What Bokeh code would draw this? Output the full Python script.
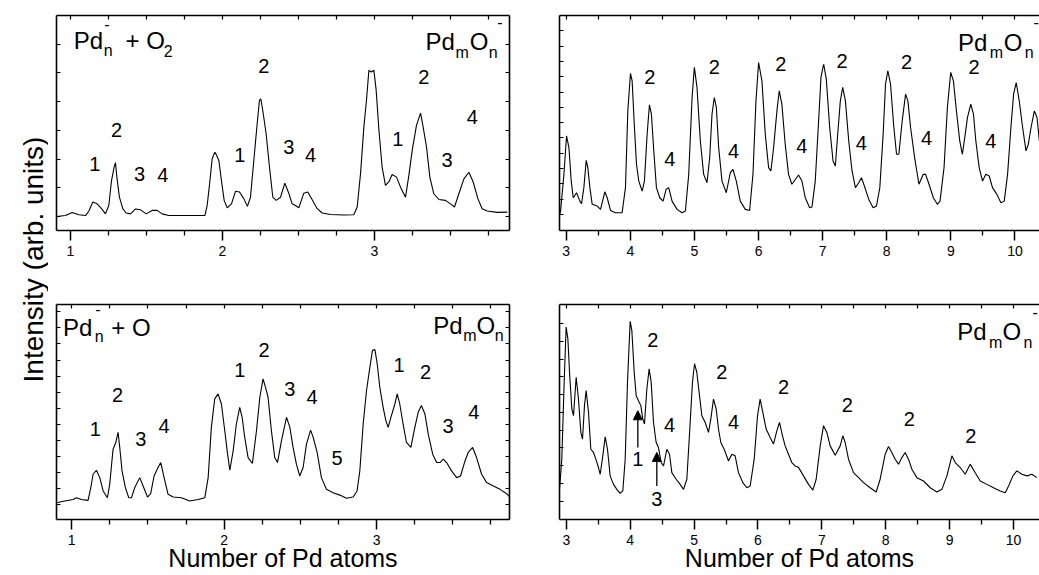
import math
from bokeh.plotting import figure
from bokeh.layouts import row, column
from bokeh.models import (Range1d, LinearAxis, FixedTicker, Label, Arrow,
                          NormalHead, ColumnDataSource, CustomJSTickFormatter)
from bokeh.embed import file_html
from bokeh.resources import INLINE
from bokeh.core.properties import value

FONT = "Liberation Sans"

# ---------------- data: top-left (Pd_n^- + O2, small clusters) ----------------
tl_x = [0.908, 0.967, 1.011, 1.055, 1.099, 1.121, 1.147, 1.175, 1.204, 1.230, 1.252, 1.270, 1.287, 1.296,
        1.305, 1.322, 1.344, 1.366, 1.395, 1.428, 1.461, 1.498, 1.537, 1.570, 1.603, 1.647, 1.779, 1.884,
        1.899, 1.914, 1.932, 1.950, 1.961, 1.976, 1.993, 2.011, 2.031, 2.059, 2.086, 2.112, 2.140, 2.164,
        2.184, 2.206, 2.228, 2.243, 2.252, 2.265, 2.287, 2.309, 2.331, 2.353, 2.382, 2.410, 2.436, 2.458,
        2.480, 2.502, 2.535, 2.561, 2.590, 2.623, 2.656, 2.711, 2.798, 2.864, 2.886, 2.908, 2.930, 2.947,
        2.963, 2.978, 2.996, 3.011, 3.029, 3.050, 3.072, 3.094, 3.116, 3.145, 3.171, 3.204, 3.226, 3.248,
        3.276, 3.303, 3.320, 3.342, 3.364, 3.390, 3.423, 3.467, 3.504, 3.526, 3.555, 3.588, 3.621, 3.649,
        3.680, 3.708, 3.741, 3.807, 3.873]
tl_y = [0.00, 0.03, 0.14, 0.06, 0.03, 0.19, 0.50, 0.44, 0.27, 0.09, 0.38, 1.25, 1.72, 1.87,
        1.37, 0.67, 0.27, 0.12, 0.09, 0.26, 0.23, 0.09, 0.21, 0.21, 0.09, 0.03, 0.03, 0.03,
        0.38, 1.08, 2.01, 2.24, 2.13, 1.95, 1.25, 0.56, 0.30, 0.44, 0.88, 0.85, 0.62, 0.35,
        0.67, 1.95, 3.23, 4.04, 4.10, 3.69, 2.88, 1.72, 0.67, 0.56, 0.67, 1.16, 0.81, 0.44,
        0.38, 0.30, 0.81, 0.85, 0.58, 0.27, 0.12, 0.07, 0.05, 0.06, 0.33, 1.49, 3.11, 4.04,
        5.09, 5.03, 5.09, 4.39, 3.00, 1.72, 1.08, 1.20, 1.46, 1.37, 1.02, 0.67, 1.43, 2.30,
        3.17, 3.60, 3.11, 2.42, 1.37, 0.79, 0.59, 0.56, 0.42, 0.33, 0.79, 1.31, 1.54, 1.20,
        0.62, 0.27, 0.19, 0.14, 0.15]
tl_lab_t = ["1", "2", "3", "4", "1", "2", "3", "4", "1", "2", "3", "4"]
tl_lab_x = [1.160, 1.303, 1.454, 1.607, 2.114, 2.272, 2.436, 2.579, 3.153, 3.325, 3.478, 3.643]
tl_lab_y = [1.84, 3.00, 1.49, 1.43, 2.13, 5.23, 2.42, 2.13, 2.71, 4.85, 1.95, 3.46]

# ---------------- data: top-right (Pd_n^- + O2, larger clusters) ----------------
tr_x = [2.897, 2.912, 2.964, 3.005, 3.042, 3.078, 3.109, 3.161, 3.213, 3.239, 3.275, 3.312, 3.337, 3.369,
        3.405, 3.483, 3.535, 3.602, 3.639, 3.691, 3.768, 3.872, 3.924, 3.961, 4.002, 4.028, 4.064,
        4.096, 4.132, 4.184, 4.220, 4.262, 4.298, 4.329, 4.366, 4.407, 4.459, 4.511, 4.558, 4.599,
        4.651, 4.729, 4.807, 4.859, 4.911, 4.963, 4.999, 5.040, 5.092, 5.144, 5.196, 5.238, 5.274,
        5.310, 5.342, 5.378, 5.430, 5.497, 5.560, 5.601, 5.653, 5.715, 5.793, 5.861, 5.913, 5.960,
        6.001, 6.053, 6.105, 6.157, 6.193, 6.235, 6.287, 6.323, 6.364, 6.416, 6.468, 6.520, 6.624,
        6.677, 6.729, 6.797, 6.833, 6.885, 6.937, 6.974, 7.016, 7.057, 7.110, 7.162, 7.198, 7.235,
        7.276, 7.313, 7.355, 7.407, 7.459, 7.511, 7.563, 7.605, 7.642, 7.720, 7.788, 7.840, 7.892,
        7.944, 7.981, 8.017, 8.059, 8.111, 8.153, 8.189, 8.241, 8.294, 8.330, 8.372, 8.435, 8.502,
        8.570, 8.607, 8.659, 8.727, 8.789, 8.831, 8.894, 8.946, 8.998, 9.040, 9.087, 9.139, 9.180,
        9.217, 9.259, 9.311, 9.353, 9.390, 9.442, 9.494, 9.546, 9.598, 9.650, 9.718, 9.781, 9.833,
        9.885, 9.937, 9.979, 10.020, 10.067, 10.120, 10.172, 10.209, 10.251, 10.303, 10.344, 10.381]
tr_y = [0.00, 0.22, 2.62, 5.13, 4.37, 2.18, 1.09, 1.42, 0.87, 0.70, 1.75, 3.54, 3.06, 1.75,
        0.66, 0.55, 0.33, 1.48, 1.09, 0.26, 0.11, 0.11, 1.75, 6.77, 9.21, 8.73, 5.68,
        3.28, 2.18, 1.53, 2.18, 5.24, 7.16, 6.55, 4.15, 1.75, 1.09, 0.87, 1.64, 1.75,
        0.87, 0.33, 0.11, 0.22, 2.62, 7.64, 9.61, 8.30, 4.80, 2.62, 2.07, 3.71, 6.55,
        7.64, 6.99, 4.37, 2.18, 1.42, 2.73, 2.95, 2.18, 0.87, 0.33, 0.26, 2.62, 7.42,
        9.93, 8.73, 5.24, 3.06, 2.84, 4.37, 6.77, 8.08, 7.21, 4.59, 2.62, 1.97, 2.58,
        2.18, 1.09, 0.44, 0.48, 2.18, 6.11, 8.95, 9.83, 8.84, 5.68, 3.49, 3.17, 5.24,
        7.42, 8.30, 7.42, 4.80, 2.84, 1.75, 2.07, 2.40, 1.97, 0.98, 0.44, 0.55, 1.75,
        5.24, 8.52, 9.39, 8.52, 5.68, 3.93, 3.93, 6.11, 7.86, 7.42, 5.68, 3.71, 1.97,
        2.62, 2.62, 1.97, 1.09, 0.66, 0.87, 3.06, 6.99, 9.28, 8.73, 6.77, 4.80, 3.93,
        5.02, 6.33, 7.21, 6.55, 4.80, 3.06, 2.18, 2.62, 2.51, 1.75, 1.31, 0.76, 0.87,
        2.62, 5.68, 7.86, 8.62, 7.42, 5.68, 4.15, 4.59, 5.68, 6.77, 6.33, 4.80]
tr_lab_t = ["2", "4", "2", "4", "2", "4", "2", "4", "2", "4", "2", "4"]
tr_lab_x = [4.303, 4.615, 5.310, 5.612, 6.349, 6.677, 7.303, 7.605, 8.309, 8.622, 9.364, 9.625]
tr_lab_y = [9.00, 3.60, 9.61, 4.15, 9.83, 4.48, 10.00, 4.65, 9.93, 5.02, 9.61, 4.80]

# ---------------- data: bottom-left (Pd_n^- + O, small clusters) ----------------
bl_x = [0.899, 0.954, 1.009, 1.031, 1.063, 1.107, 1.125, 1.140, 1.162, 1.184, 1.206, 1.234, 1.249, 1.271,
        1.289, 1.304, 1.315, 1.330, 1.352, 1.374, 1.392, 1.413, 1.446, 1.468, 1.497, 1.518, 1.540,
        1.566, 1.584, 1.606, 1.632, 1.665, 1.720, 1.774, 1.829, 1.873, 1.895, 1.916, 1.938, 1.960,
        1.982, 2.004, 2.021, 2.037, 2.059, 2.080, 2.102, 2.118, 2.135, 2.157, 2.185, 2.212, 2.234,
        2.255, 2.271, 2.288, 2.310, 2.332, 2.350, 2.376, 2.409, 2.431, 2.452, 2.474, 2.496, 2.518,
        2.540, 2.567, 2.584, 2.610, 2.638, 2.671, 2.715, 2.759, 2.802, 2.846, 2.872, 2.890, 2.912,
        2.934, 2.956, 2.973, 2.989, 3.004, 3.021, 3.043, 3.061, 3.076, 3.094, 3.120, 3.135, 3.152,
        3.174, 3.196, 3.225, 3.251, 3.273, 3.294, 3.317, 3.339, 3.368, 3.394, 3.416, 3.438, 3.459,
        3.492, 3.525, 3.551, 3.580, 3.601, 3.630, 3.656, 3.689, 3.722, 3.766, 3.810, 3.853, 3.875]
bl_y = [0.10, 0.21, 0.31, 0.42, 0.31, 0.25, 1.04, 1.88, 2.13, 1.67, 0.84, 0.42, 1.25, 3.44,
        3.86, 4.49, 3.55, 2.09, 1.04, 0.42, 0.42, 1.04, 1.67, 1.15, 0.46, 0.67, 1.77,
        2.30, 2.61, 1.67, 0.63, 0.46, 0.42, 0.21, 0.31, 0.42, 1.67, 4.80, 6.58, 6.89,
        6.26, 4.59, 3.24, 2.13, 3.34, 5.01, 6.05, 5.43, 4.18, 2.92, 2.55, 4.59, 6.68,
        7.83, 7.31, 6.68, 4.59, 2.92, 2.61, 3.97, 5.43, 4.80, 3.55, 2.51, 1.77, 2.30,
        3.76, 4.63, 4.18, 3.24, 1.67, 0.94, 0.73, 0.58, 0.38, 0.46, 0.84, 2.09, 5.01,
        7.10, 8.56, 9.60, 9.65, 8.77, 7.31, 6.05, 5.22, 4.80, 5.43, 6.26, 6.89, 6.26,
        5.01, 3.86, 3.55, 4.80, 5.74, 6.16, 5.64, 4.38, 3.13, 2.61, 2.61, 2.82, 2.61,
        2.09, 1.67, 1.77, 2.71, 3.24, 3.55, 2.92, 1.88, 1.36, 1.15, 0.94, 0.67, 0.46]
bl_lab_t = ["1", "2", "3", "4", "1", "2", "3", "4", "5", "1", "2", "3", "4"]
bl_lab_x = [1.155, 1.300, 1.453, 1.606, 2.102, 2.262, 2.431, 2.577, 2.741, 3.148, 3.321, 3.469, 3.638]
bl_lab_y = [4.70, 6.85, 4.07, 4.91, 8.35, 9.65, 7.20, 6.68, 2.92, 8.66, 8.25, 4.91, 5.74]

# ---------------- data: bottom-right (Pd_n^- + O, larger clusters) ----------------
br_x = [2.894, 2.930, 2.967, 2.998, 3.025, 3.051, 3.087, 3.113, 3.155, 3.191, 3.228, 3.254, 3.285, 3.311,
        3.348, 3.384, 3.426, 3.463, 3.504, 3.531, 3.572, 3.609, 3.645, 3.687, 3.739, 3.791, 3.843,
        3.885, 3.922, 3.958, 4.000, 4.026, 4.063, 4.094, 4.130, 4.167, 4.198, 4.224, 4.261, 4.297,
        4.329, 4.365, 4.407, 4.443, 4.485, 4.522, 4.574, 4.616, 4.652, 4.720, 4.782, 4.835, 4.887,
        4.939, 4.975, 5.007, 5.043, 5.085, 5.122, 5.174, 5.226, 5.262, 5.304, 5.346, 5.382, 5.419,
        5.471, 5.539, 5.591, 5.643, 5.695, 5.763, 5.826, 5.878, 5.941, 5.993, 6.034, 6.076, 6.128,
        6.191, 6.243, 6.295, 6.337, 6.384, 6.426, 6.478, 6.530, 6.582, 6.634, 6.713, 6.791, 6.859,
        6.911, 6.974, 7.026, 7.078, 7.130, 7.208, 7.287, 7.328, 7.365, 7.417, 7.495, 7.574, 7.652,
        7.756, 7.850, 7.912, 7.991, 8.043, 8.095, 8.147, 8.200, 8.252, 8.304, 8.356, 8.409, 8.487,
        8.591, 8.696, 8.800, 8.878, 8.957, 9.035, 9.087, 9.165, 9.243, 9.321, 9.400, 9.478, 9.583,
        9.687, 9.791, 9.870, 9.922, 9.990, 10.052, 10.130, 10.209, 10.287, 10.365]
br_y = [0.66, 2.36, 6.70, 9.81, 9.15, 7.26, 5.19, 4.81, 6.98, 5.75, 3.87, 3.49, 5.38, 6.23,
        5.00, 2.92, 2.74, 2.36, 1.89, 1.51, 2.55, 3.62, 2.92, 1.42, 0.94, 0.66, 0.43,
        0.57, 2.36, 6.70, 10.13, 9.62, 7.26, 5.94, 5.66, 5.38, 4.62, 4.34, 6.32, 7.45,
        6.70, 4.43, 3.30, 3.02, 2.17, 1.98, 2.92, 2.64, 1.60, 1.23, 0.94, 0.66, 1.23,
        4.43, 6.70, 7.74, 7.26, 5.94, 4.81, 4.43, 3.87, 4.62, 5.75, 5.19, 4.06, 3.30,
        2.92, 2.26, 2.64, 2.55, 1.60, 1.04, 0.75, 0.85, 2.36, 4.81, 5.75, 5.00, 4.06,
        3.58, 3.21, 3.96, 4.43, 3.68, 3.11, 2.64, 2.17, 1.98, 1.90, 1.42, 0.94, 0.62,
        1.23, 3.11, 4.25, 3.87, 3.11, 2.58, 3.11, 3.68, 3.30, 2.36, 1.60, 1.32, 1.04,
        0.75, 0.51, 1.23, 2.64, 3.08, 2.74, 2.36, 2.08, 2.45, 2.74, 2.36, 1.79, 1.32,
        1.13, 0.75, 0.51, 0.66, 1.42, 2.55, 2.17, 1.89, 1.51, 2.08, 1.60, 1.13, 0.94,
        0.75, 0.57, 0.47, 0.85, 1.42, 1.70, 1.51, 1.42, 1.51, 1.32]
br_lab_t = ["2", "4", "2", "4", "2", "2", "2", "2"]
br_lab_x = [4.355, 4.616, 5.435, 5.617, 6.400, 7.400, 8.367, 9.331]
br_lab_y = [9.06, 4.28, 7.26, 4.43, 6.42, 5.42, 4.62, 3.64]
br_arrow_t = ["1", "3"]
br_arrow_x = [4.120, 4.417]
br_arrow_y0 = [3.02, 0.85]
br_arrow_y1 = [5.09, 2.74]
br_arrow_lab_y = [2.36, 0.13]

# axis ticks
left_xticks = [1, 2, 3]
left_xminor = [1.25, 1.5, 1.75, 2.25, 2.5, 2.75, 3.25, 3.5, 3.75]
right_xticks = [3, 4, 5, 6, 7, 8, 9, 10]
right_xminor = [3.5, 4.5, 5.5, 6.5, 7.5, 8.5, 9.5]

# panel titles: (text, x, y, font size, baseline)
tl_titles = [("Pd", 1.022, 6.13, "24px", "alphabetic"), ("n", 1.219, 5.78, "16px", "alphabetic"),
             ("-", 1.222, 6.71, "16px", "middle"), ("+ O", 1.362, 6.13, "24px", "alphabetic"),
             ("2", 1.614, 5.78, "16px", "alphabetic"),
             ("Pd", 3.336, 6.11, "24px", "alphabetic"), ("m", 3.533, 5.72, "16px", "alphabetic"),
             ("O", 3.627, 6.11, "24px", "alphabetic"), ("n", 3.752, 5.72, "16px", "alphabetic"),
             ("-", 3.807, 6.77, "16px", "middle")]
tr_titles = [("Pd", 9.110, 11.24, "24px", "alphabetic"), ("m", 9.606, 10.59, "16px", "alphabetic"),
             ("O", 9.825, 11.24, "24px", "alphabetic"), ("n", 10.154, 10.59, "16px", "alphabetic"),
             ("-", 10.290, 12.55, "16px", "middle")]
bl_titles = [("Pd", 0.943, 11.02, "24px", "alphabetic"), ("n", 1.151, 10.44, "16px", "alphabetic"),
             ("-", 1.155, 12.15, "16px", "middle"), ("+ O", 1.260, 11.02, "24px", "alphabetic"),
             ("Pd", 3.371, 11.17, "24px", "alphabetic"), ("m", 3.568, 10.54, "16px", "alphabetic"),
             ("O", 3.656, 11.17, "24px", "alphabetic"), ("n", 3.776, 10.54, "16px", "alphabetic")]
br_titles = [("Pd", 9.120, 9.53, "24px", "alphabetic"), ("m", 9.616, 8.96, "16px", "alphabetic"),
             ("O", 9.827, 9.53, "24px", "alphabetic"), ("n", 10.156, 8.96, "16px", "alphabetic"),
             ("-", 10.295, 10.66, "16px", "middle")]

LW = 1.6


def blank(ax):
    ax.formatter = CustomJSTickFormatter(code="return ''")
    ax.major_label_text_font_size = "0px"
    ax.major_label_standoff = 0
    ax.axis_line_width = LW
    ax.major_tick_line_width = 1.2
    ax.minor_tick_line_width = 1.2
    ax.major_tick_out = 0
    ax.minor_tick_out = 0


def panel(xs, ys, xr, yr, xt, xm, yt, w, h, mbl, mbr, mbt, mbb, right_axis, titles,
          lab_t, lab_x, lab_y, xlabel=None):
    p = figure(width=w, height=h, x_range=Range1d(*xr), y_range=Range1d(*yr),
               output_backend="svg", toolbar_location=None,
               min_border_left=mbl, min_border_right=mbr,
               min_border_top=mbt, min_border_bottom=mbb)
    p.outline_line_color = None
    p.xgrid.visible = False
    p.ygrid.visible = False

    xa = p.xaxis[0]
    xa.ticker = FixedTicker(ticks=xt, minor_ticks=xm)
    xa.axis_line_width = LW
    xa.major_tick_line_width = 1.5
    xa.minor_tick_line_width = 1.3
    xa.major_tick_out = 10
    xa.major_tick_in = 0
    xa.minor_tick_out = 5
    xa.minor_tick_in = 0
    xa.major_label_text_font = FONT
    xa.major_label_text_font_size = "14px"
    xa.major_label_text_color = "black"
    xa.major_label_standoff = 5
    if xlabel:
        xa.axis_label = xlabel
        xa.axis_label_text_font = FONT
        xa.axis_label_text_font_size = "25px"
        xa.axis_label_text_font_style = "normal"
        xa.axis_label_text_color = "black"
        xa.axis_label_standoff = -4

    ya = p.yaxis[0]
    ya.ticker = FixedTicker(ticks=yt, minor_ticks=[])
    blank(ya)
    ya.major_tick_in = 4

    top = LinearAxis(ticker=FixedTicker(ticks=xt, minor_ticks=xm))
    blank(top)
    top.major_tick_in = 4
    top.minor_tick_in = 4
    p.add_layout(top, "above")

    if right_axis:
        ra = LinearAxis(ticker=FixedTicker(ticks=yt, minor_ticks=[]))
        blank(ra)
        ra.major_tick_in = 4
        p.add_layout(ra, "right")

    p.line(x=xs, y=ys, line_color="black", line_width=1.1)

    src = ColumnDataSource(dict(x=lab_x, y=lab_y, t=lab_t))
    p.text(x="x", y="y", text="t", source=src, text_font=value(FONT),
           text_font_size=value("20px"), text_align="center", text_baseline="middle",
           text_color="black")

    for (t, x, y, fs, bl) in titles:
        p.add_layout(Label(x=x, y=y, text=t, text_font=FONT, text_font_size=fs,
                           text_align="left", text_baseline=bl, text_color="black"))
    return p


TOP_H, BOT_H = 289, 286
YL_W, LEFT_W, RIGHT_W = 48, 486, 505

tl = panel(tl_x, tl_y, (0.908, 3.888), (-0.49, 7.0), left_xticks, left_xminor, list(range(0, 7)),
           LEFT_W, TOP_H, 8, 25, 15, 59, True, tl_titles, tl_lab_t, tl_lab_x, tl_lab_y)
tr = panel(tr_x, tr_y, (2.895, 10.383), (-1.05, 13.0), right_xticks, right_xminor, list(range(0, 13)),
           RIGHT_W, TOP_H, 25, 0, 15, 59, False, tr_titles, tr_lab_t, tr_lab_x, tr_lab_y)
bl = panel(bl_x, bl_y, (0.900, 3.872), (-0.94, 12.46), left_xticks, left_xminor, list(range(0, 13)),
           LEFT_W, BOT_H, 8, 25, 15, 56, True, bl_titles, bl_lab_t, bl_lab_x, bl_lab_y,
           xlabel="Number of Pd atoms")
br = panel(br_x, br_y, (2.894, 10.406), (-1.04, 11.08), right_xticks, right_xminor, list(range(0, 11)),
           RIGHT_W, BOT_H, 25, 0, 15, 56, False, br_titles, br_lab_t, br_lab_x, br_lab_y,
           xlabel="Number of Pd atoms")

# arrows in bottom-right panel
for t, x, y0, y1, ly in zip(br_arrow_t, br_arrow_x, br_arrow_y0, br_arrow_y1, br_arrow_lab_y):
    br.add_layout(Arrow(end=NormalHead(size=9, fill_color="black", line_color="black", line_width=1),
                        x_start=x, y_start=y0, x_end=x, y_end=y1, line_width=1.3, line_color="black"))
arr_src = ColumnDataSource(dict(x=br_arrow_x, y=br_arrow_lab_y, t=br_arrow_t))
br.text(x="x", y="y", text="t", source=arr_src, text_font=value(FONT),
        text_font_size=value("20px"), text_align="center", text_baseline="middle",
        text_color="black")

# shared y label
H = TOP_H + BOT_H
yl = figure(width=YL_W, height=H, x_range=Range1d(0, YL_W), y_range=Range1d(0, H),
            output_backend="svg", toolbar_location=None, min_border=0,
            x_axis_location=None, y_axis_location=None)
yl.outline_line_color = None
yl.grid.visible = False
yl.add_layout(Label(x=33, y=H - 259, text="Intensity (arb. units)", angle=math.pi / 2,
                    text_align="center", text_baseline="alphabetic",
                    text_font=FONT, text_font_size="28px", text_color="black"))

layout = row(yl, column(row(tl, tr), row(bl, br)))
open("out.html", "w").write(file_html(layout, INLINE))
